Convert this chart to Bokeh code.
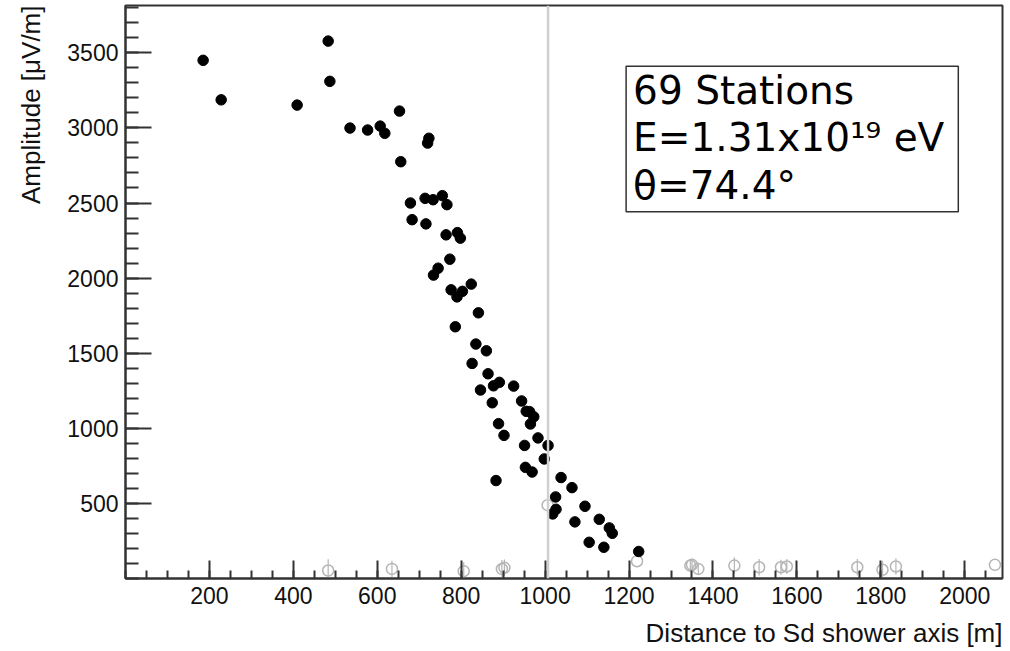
from bokeh.plotting import figure
from bokeh.models import Range1d, FixedTicker, Span, Label, Title
from bokeh.embed import file_html
from bokeh.resources import INLINE

# Black points: stations with signal
dist_sig = [185, 228, 409, 483, 487, 653, 535, 577, 607, 618, 723, 720, 656,
            679, 714, 733, 755, 766, 683, 716, 764, 791, 798, 773, 745, 734,
            824, 776, 803, 790, 841, 786, 835, 860, 826, 864, 891, 877, 925,
            846, 874, 944, 955, 963, 973, 965, 889, 902, 983, 951, 1007, 998,
            953, 969, 883, 1038, 1064, 1025, 1026, 1018, 1095, 1071, 1129,
            1153, 1160, 1105, 1140, 1223]
amp_sig = [3450, 3187, 3152, 3578, 3310, 3112, 2999, 2986, 3012, 2964, 2931,
           2899, 2775, 2500, 2531, 2522, 2549, 2489, 2389, 2361, 2288, 2303,
           2266, 2126, 2066, 2020, 1960, 1922, 1912, 1875, 1769, 1676, 1561,
           1516, 1432, 1363, 1306, 1283, 1281, 1255, 1170, 1182, 1113, 1111,
           1077, 1029, 1031, 953, 936, 886, 886, 796, 740, 709, 652, 672, 605,
           543, 461, 430, 481, 377, 394, 337, 301, 241, 208, 180]

# Grey open points: stations without signal (upper limits)
dist_nosig = [483, 635, 806, 897, 903, 1006, 1219, 1346, 1350, 1365, 1451,
              1510, 1562, 1576, 1744, 1804, 1836, 2072]
amp_nosig = [53, 64, 49, 64, 71, 488, 115, 86, 91, 64, 86, 75, 75, 80, 75,
             58, 80, 91]
err_nosig = [75, 55, 60, 60, 55, 0, 0, 40, 40, 40, 55, 55, 50, 50, 55, 60,
             55, 0]

cut_distance = 1007
x_major = [200, 400, 600, 800, 1000, 1200, 1400, 1600, 1800, 2000]
y_major = [500, 1000, 1500, 2000, 2500, 3000, 3500]
x_title = "Distance to Sd shower axis [m]"
y_title = "Amplitude [\u03bcV/m]"
info_text = "69 Stations\nE=1.31x10\u00b9\u2079 eV\n\u03b8=74.4\u00b0"

p = figure(frame_width=877, frame_height=573, output_backend="svg",
           toolbar_location=None,
           x_range=Range1d(0, 2090), y_range=Range1d(0, 3815))
p.min_border_left = 125
p.min_border_right = 8
p.min_border_top = 5
p.min_border_bottom = 73
p.background_fill_color = "white"
p.border_fill_color = "white"
p.grid.visible = False
p.outline_line_color = "#333333"
p.outline_line_width = 2

p.xaxis.ticker = FixedTicker(ticks=x_major,
                             minor_ticks=list(range(0, 2100, 50)))
p.yaxis.ticker = FixedTicker(ticks=y_major,
                             minor_ticks=list(range(0, 3900, 100)))

for ax in (p.xaxis[0], p.yaxis[0]):
    ax.axis_line_color = "#333333"
    ax.axis_line_width = 2
    ax.major_tick_line_color = "#333333"
    ax.minor_tick_line_color = "#333333"
    ax.major_tick_line_width = 2
    ax.minor_tick_line_width = 2
    ax.major_tick_out = 0
    ax.minor_tick_out = 0
    ax.major_label_text_font = "Liberation Sans"
    ax.major_label_text_font_size = "23px"
    ax.major_label_text_color = "#111111"
    # blank spacer label pushes the real titles a little further out
    ax.axis_label = " "
    ax.axis_label_text_font_size = "1px"

p.xaxis.axis_label_standoff = 0
p.yaxis.axis_label_standoff = 1
p.xaxis.major_tick_in = 18
p.xaxis.minor_tick_in = 8
p.yaxis.major_tick_in = 26
p.yaxis.minor_tick_in = 13
p.xaxis.major_label_standoff = 8
p.yaxis.major_label_standoff = 7

p.add_layout(Title(text=x_title, align="right",
                   text_font="Liberation Sans", text_font_size="26px",
                   text_font_style="normal", text_color="#111111",
                   standoff=10), "below")
p.add_layout(Title(text=y_title, align="right",
                   text_font="Liberation Sans", text_font_size="26px",
                   text_font_style="normal", text_color="#111111",
                   standoff=27), "left")

p.add_layout(Span(location=cut_distance, dimension="height",
                  line_color="#d0d0d0", line_width=2.5))

y_lo = [a - e for a, e in zip(amp_nosig, err_nosig)]
y_hi = [a + e for a, e in zip(amp_nosig, err_nosig)]
p.segment(x0=dist_nosig, y0=y_lo, x1=dist_nosig, y1=y_hi,
          line_color="#b5b5b5", line_width=1.2)
p.scatter(dist_nosig, amp_nosig, marker="circle", size=11,
          fill_color=None, line_color="#b5b5b5", line_width=1.5)

p.scatter(dist_sig, amp_sig, marker="circle", size=10.5,
          fill_color="black", line_color="black")

p.add_layout(Label(x=1193, y=3411, text=info_text, anchor="top_left",
                   text_font="DejaVu Sans", text_font_size="39px",
                   text_color="black", text_line_height=1.05,
                   padding=dict(left=7, right=14, top=2, bottom=4),
                   border_line_color="#333333", border_line_width=1.5,
                   background_fill_color="white"))

open("out.html", "w").write(file_html(p, INLINE))
